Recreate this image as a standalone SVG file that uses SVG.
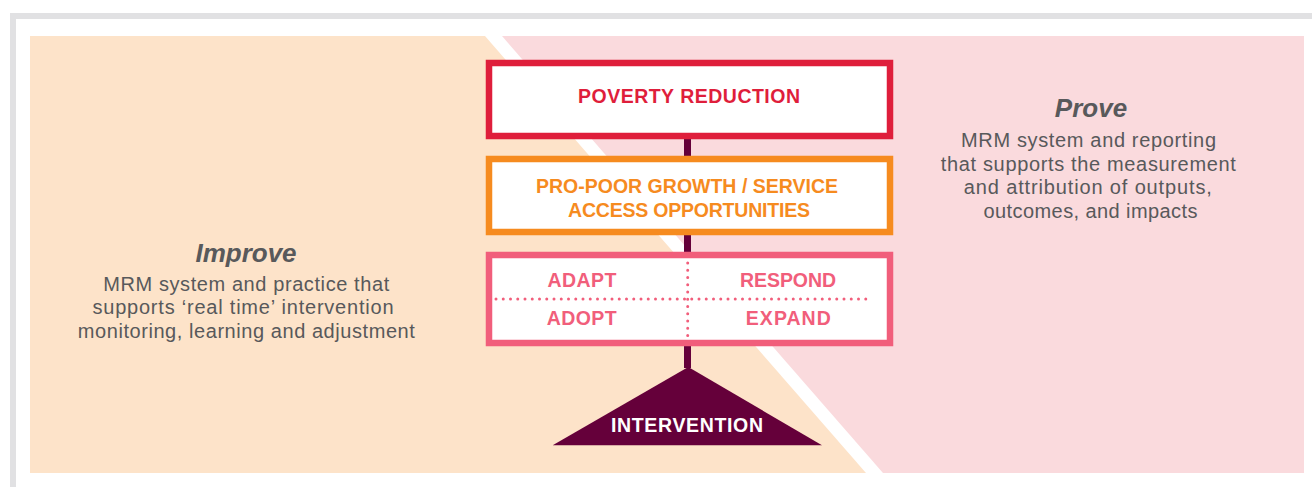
<svg xmlns="http://www.w3.org/2000/svg" width="1312" height="487" viewBox="0 0 1312 487">
<style>
.frame{fill:none;stroke:#E1E1E3;stroke-width:6}
.box{fill:#fff;stroke-width:6.5}
.h{font-family:"Liberation Sans",Arial,sans-serif;font-weight:bold;font-size:19.5px;text-anchor:middle}
.title{font-family:"Liberation Sans",Arial,sans-serif;font-weight:bold;font-style:italic;font-size:26px;fill:#58595B;text-anchor:middle}
.body{font-family:"Liberation Sans",Arial,sans-serif;font-size:20px;fill:#58595B;text-anchor:middle}
.dot{stroke:#F15E7B;stroke-width:3;stroke-linecap:round;stroke-dasharray:0 7.25;fill:none}
</style>
<rect width="1312" height="487" fill="#fff"/>
<path class="frame" d="M13,487 V16 H1312"/>
<g id="background">
<polygon points="30,36 485,36 866,473 30,473" fill="#FDE3C9"/>
<polygon points="502,36 1304,36 1304,473 883,473" fill="#FADADD"/>
</g>
<g id="improve">
<text class="title" x="246" y="262">Improve</text>
<text class="body" x="246.2" y="291" textLength="286" lengthAdjust="spacing">MRM system and practice that</text>
<text class="body" x="243" y="314.3" textLength="301" lengthAdjust="spacing">supports ‘real time’ intervention</text>
<text class="body" x="246.3" y="338.3" textLength="337" lengthAdjust="spacing">monitoring, learning and adjustment</text>
</g>
<g id="prove">
<text class="title" x="1091" y="117.3">Prove</text>
<text class="body" x="1088.5" y="146.7" textLength="255" lengthAdjust="spacing">MRM system and reporting</text>
<text class="body" x="1088.3" y="170.7" textLength="295" lengthAdjust="spacing">that supports the measurement</text>
<text class="body" x="1087.8" y="194.3" textLength="248" lengthAdjust="spacing">and attribution of outputs,</text>
<text class="body" x="1090.5" y="217.7" textLength="214" lengthAdjust="spacing">outcomes, and impacts</text>
</g>
<g id="connectors">
<line x1="687.5" y1="136" x2="687.5" y2="368" stroke="#65003A" stroke-width="7"/>
</g>
<g id="poverty-reduction">
<rect class="box" x="489" y="63" width="401" height="73" stroke="#DF1E3B"/>
<text class="h" x="689" y="103" fill="#DF1E3B" textLength="222" lengthAdjust="spacing">POVERTY REDUCTION</text>
</g>
<g id="pro-poor-growth">
<rect class="box" x="489" y="159" width="401" height="73" stroke="#F68B1F"/>
<text class="h" x="687" y="193.3" fill="#F68B1F" textLength="302" lengthAdjust="spacing">PRO-POOR GROWTH / SERVICE</text>
<text class="h" x="689" y="216.7" fill="#F68B1F" textLength="242" lengthAdjust="spacing">ACCESS OPPORTUNITIES</text>
</g>
<g id="adapt-respond">
<rect class="box" x="489" y="255" width="401" height="88" stroke="#F15E7B"/>
<line class="dot" x1="496" y1="299" x2="873" y2="299"/>
<line class="dot" x1="687.7" y1="263" x2="687.7" y2="336"/>
<text class="h" x="582" y="286.7" fill="#F15E7B" textLength="69" lengthAdjust="spacing">ADAPT</text>
<text class="h" x="788" y="286.7" fill="#F15E7B" textLength="96" lengthAdjust="spacing">RESPOND</text>
<text class="h" x="581.7" y="325" fill="#F15E7B" textLength="70" lengthAdjust="spacing">ADOPT</text>
<text class="h" x="788.3" y="325" fill="#F15E7B" textLength="85" lengthAdjust="spacing">EXPAND</text>
</g>
<g id="intervention">
<polygon points="688.3,367 822,445.3 552.7,445.3" fill="#65003A"/>
<text class="h" x="687" y="432.3" fill="#fff" textLength="152" lengthAdjust="spacing">INTERVENTION</text>
</g>
</svg>
